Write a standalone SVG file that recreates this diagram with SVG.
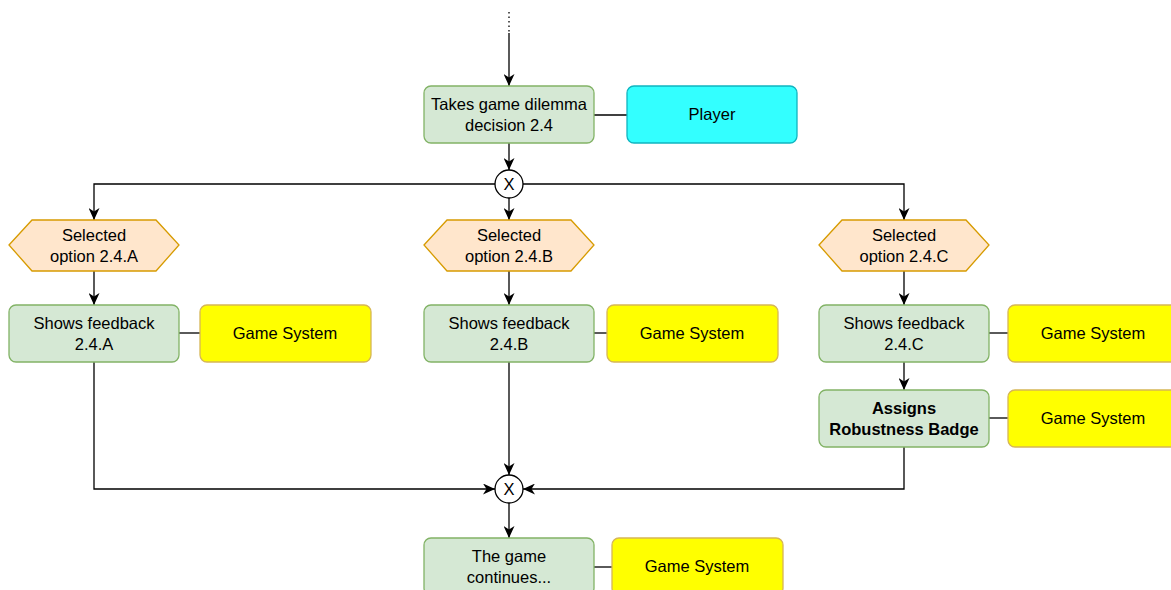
<svg xmlns="http://www.w3.org/2000/svg" width="1171" height="590" viewBox="0 0 1171 590">
  <defs>
    <marker id="arrow" viewBox="0 0 12 11" refX="12" refY="5.5" markerWidth="12" markerHeight="11" markerUnits="userSpaceOnUse" orient="auto">
      <path d="M0,0 L12,5.5 L0,11 L3.5,5.5 Z" fill="#000"/>
    </marker>
    <style>
      .task { fill: #d5e8d4; stroke: #82b366; stroke-width: 1.3; }
      .event { fill: #ffe6cc; stroke: #d79b00; stroke-width: 1.3; }
      .sys { fill: #ffff00; stroke: #d6b656; stroke-width: 1.3; }
      .player { fill: #33ffff; stroke: #10b5c0; stroke-width: 1.3; }
      .gate { fill: #ffffff; stroke: #000; stroke-width: 1.3; }
      .lbl { font-family: "Liberation Sans", Arial, sans-serif; font-size: 16.5px; fill: #000; text-anchor: middle; }
      .bold { font-weight: bold; }
      .edge { fill: none; stroke: #000; stroke-width: 1.3; }
      .flow { fill: none; stroke: #000; stroke-width: 1.3; marker-end: url(#arrow); }
    </style>
  </defs>
  <rect width="1171" height="590" fill="#ffffff"/>

  <g id="connectors">
    <line x1="509" y1="12" x2="509" y2="33" stroke="#000" stroke-width="1.3" stroke-dasharray="1.5 3"/>
    <path class="flow" d="M509,33 V86"/>
    <path class="edge" d="M594,115 H627"/>
    <path class="flow" d="M509,143 V170"/>
    <path class="flow" d="M495,184 H94 V220"/>
    <path class="flow" d="M509,198 V220"/>
    <path class="flow" d="M523,184 H904 V220"/>
    <path class="flow" d="M94,271 V305"/>
    <path class="flow" d="M509,271 V305"/>
    <path class="flow" d="M904,271 V305"/>
    <path class="edge" d="M179,333 H200"/>
    <path class="edge" d="M594,333 H607"/>
    <path class="edge" d="M989,333 H1008"/>
    <path class="flow" d="M904,362 V390"/>
    <path class="edge" d="M989,418 H1008"/>
    <path class="flow" d="M94,362 V489 H495"/>
    <path class="flow" d="M509,362 V475"/>
    <path class="flow" d="M904,447 V489 H523"/>
    <path class="flow" d="M509,503 V538"/>
    <path class="edge" d="M594,567 H612"/>
  </g>

  <g id="decision">
    <rect class="task" x="424" y="86" width="170" height="57" rx="7"/>
    <text class="lbl" x="509" y="110">Takes game dilemma</text>
    <text class="lbl" x="509" y="131">decision 2.4</text>
  </g>
  <g id="player">
    <rect class="player" x="627" y="86" width="170" height="57" rx="7"/>
    <text class="lbl" x="712" y="120">Player</text>
  </g>

  <g id="split">
    <circle class="gate" cx="509" cy="184" r="14"/>
    <text class="lbl" x="509" y="190">X</text>
  </g>

  <g id="optionA">
    <polygon class="event" points="9,245 32,220 156,220 179,245 156,271 32,271"/>
    <text class="lbl" x="94" y="241">Selected</text>
    <text class="lbl" x="94" y="262">option 2.4.A</text>
  </g>
  <g id="optionB">
    <polygon class="event" points="424,245 447,220 571,220 594,245 571,271 447,271"/>
    <text class="lbl" x="509" y="241">Selected</text>
    <text class="lbl" x="509" y="262">option 2.4.B</text>
  </g>
  <g id="optionC">
    <polygon class="event" points="819,245 842,220 966,220 989,245 966,271 842,271"/>
    <text class="lbl" x="904" y="241">Selected</text>
    <text class="lbl" x="904" y="262">option 2.4.C</text>
  </g>

  <g id="feedbackA">
    <rect class="task" x="9" y="305" width="170" height="57" rx="7"/>
    <text class="lbl" x="94" y="329">Shows feedback</text>
    <text class="lbl" x="94" y="350">2.4.A</text>
  </g>
  <g id="systemA">
    <rect class="sys" x="200" y="305" width="171" height="57" rx="7"/>
    <text class="lbl" x="285" y="339">Game System</text>
  </g>

  <g id="feedbackB">
    <rect class="task" x="424" y="305" width="170" height="57" rx="7"/>
    <text class="lbl" x="509" y="329">Shows feedback</text>
    <text class="lbl" x="509" y="350">2.4.B</text>
  </g>
  <g id="systemB">
    <rect class="sys" x="607" y="305" width="171" height="57" rx="7"/>
    <text class="lbl" x="692" y="339">Game System</text>
  </g>

  <g id="feedbackC">
    <rect class="task" x="819" y="305" width="170" height="57" rx="7"/>
    <text class="lbl" x="904" y="329">Shows feedback</text>
    <text class="lbl" x="904" y="350">2.4.C</text>
  </g>
  <g id="systemC">
    <rect class="sys" x="1008" y="305" width="171" height="57" rx="7"/>
    <text class="lbl" x="1093" y="339">Game System</text>
  </g>

  <g id="badge">
    <rect class="task" x="819" y="390" width="170" height="57" rx="7"/>
    <text class="lbl bold" x="904" y="414">Assigns</text>
    <text class="lbl bold" x="904" y="435">Robustness Badge</text>
  </g>
  <g id="systemBadge">
    <rect class="sys" x="1008" y="390" width="171" height="57" rx="7"/>
    <text class="lbl" x="1093" y="424">Game System</text>
  </g>

  <g id="merge">
    <circle class="gate" cx="509" cy="489" r="14"/>
    <text class="lbl" x="509" y="495">X</text>
  </g>

  <g id="continues">
    <rect class="task" x="424" y="538" width="170" height="57" rx="7"/>
    <text class="lbl" x="509" y="562">The game</text>
    <text class="lbl" x="509" y="583">continues...</text>
  </g>
  <g id="systemEnd">
    <rect class="sys" x="612" y="538" width="171" height="57" rx="7"/>
    <text class="lbl" x="697" y="572">Game System</text>
  </g>
</svg>
